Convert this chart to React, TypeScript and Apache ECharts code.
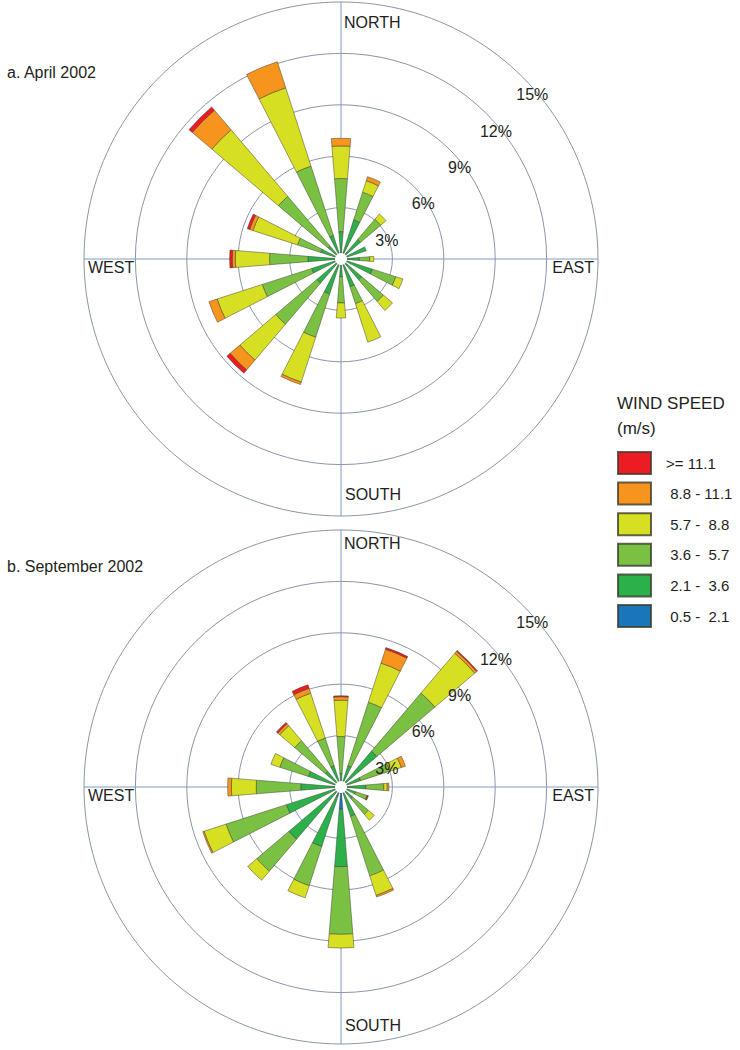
import React, { useEffect, useRef } from "react";
import * as echarts from "echarts";

// ---------- data ----------
const DIRS = ["N", "NNE", "NE", "ENE", "E", "ESE", "SE", "SSE", "S", "SSW", "SW", "WSW", "W", "WNW", "NW", "NNW"];

const SPEED_CLASSES = [" 0.5 -  2.1", " 2.1 -  3.6", " 3.6 -  5.7", " 5.7 -  8.8", " 8.8 - 11.1", ">= 11.1"];
const CLASS_COLORS = ["#1b75bb", "#2bb04a", "#7ac143", "#d7df23", "#f7941d", "#ed1c24"];

// April 2002 (% frequency per speed class)
const aprB1 = [0.4, 0.4, 0.3, 0.3, 0.3, 0.3, 0.3, 0.3, 0.3, 0.3, 0.3, 0.3, 0.3, 0.3, 0.3, 0.3];
const aprB2 = [1.2, 2.0, 1.2, 1.25, 0.77, 1.63, 1.3, 1.4, 0.73, 1.85, 1.55, 1.5, 1.63, 0.95, 0.7, 1.15];
const aprB3 = [3.1, 1.7, 1.55, 0, 0.61, 1.43, 1.65, 1.04, 1.54, 2.65, 3.15, 3.03, 2.24, 1.42, 3.8, 4.25];
const aprB4 = [1.9, 0.7, 0.4, 0, 0.24, 0.44, 0.7, 2.36, 0.88, 2.75, 2.75, 2.77, 2.0, 2.73, 5.1, 4.8];
const aprB5 = [0.45, 0.25, 0, 0, 0, 0, 0, 0, 0, 0.15, 0.75, 0.5, 0.18, 0.2, 1.5, 1.6];
const aprB6 = [0, 0, 0, 0, 0, 0, 0, 0, 0, 0, 0.25, 0, 0.15, 0.15, 0.25, 0];

// September 2002
const sepB1 = [0.3, 0.3, 0.3, 0.3, 0.3, 0.3, 0.3, 0.3, 1.3, 0.6, 0.3, 0.3, 0.3, 0.3, 0.3, 0.3];
const sepB2 = [0.5, 1.0, 2.45, 0.9, 1.15, 0.6, 0.6, 1.5, 3.35, 3.05, 3.7, 3.05, 2.05, 1.7, 0.9, 1.0];
const sepB3 = [2.15, 3.9, 4.45, 1.8, 1.05, 0.7, 1.2, 3.65, 3.95, 2.4, 2.45, 3.7, 2.6, 1.75, 2.35, 1.7];
const sepB4 = [2.12, 2.4, 3.05, 0.7, 0.2, 0, 0.45, 1.2, 0.8, 0.75, 0.7, 1.35, 1.45, 0.55, 1.15, 2.75];
const sepB5 = [0.2, 0.85, 0.15, 0.25, 0.1, 0.03, 0, 0.1, 0, 0, 0, 0.08, 0.22, 0, 0.15, 0.3];
const sepB6 = [0.06, 0.1, 0.06, 0, 0, 0.05, 0, 0, 0, 0, 0, 0, 0, 0, 0.1, 0.22];

const RING_MAX = 15;
const RING_STEP = 3;

const PANELS = [
  { title: "a. April 2002", classes: [aprB1, aprB2, aprB3, aprB4, aprB5, aprB6] },
  { title: "b. September 2002", classes: [sepB1, sepB2, sepB3, sepB4, sepB5, sepB6] },
];

// ---------- layout ----------
const FONT = '"Liberation Sans", Arial, Helvetica, sans-serif';
const TEXT = "#231f20";
const R = 257;
const CENTERS = [
  [341, 259],
  [341, 787],
];
const TITLE_POS = [
  [7, 72],
  [7, 566],
];
const NORTH_DY = [20, 13];
const SOUTH_DY = [-22, -19];

export default function App() {
  const ref = useRef<HTMLDivElement>(null);
  useEffect(() => {
    if (!ref.current) return;
    const chart = echarts.init(ref.current, null, { renderer: "svg" });

    const polar: any[] = [];
    const angleAxis: any[] = [];
    const radiusAxis: any[] = [];
    const series: any[] = [];
    const graphic: any[] = [];

    PANELS.forEach((panel, p) => {
      const [cx, cy] = CENTERS[p];
      const base = p * 3;
      // polar 0: rings + cardinal lines
      polar.push({ center: [cx, cy], radius: R });
      angleAxis.push({
        polarIndex: base,
        type: "value",
        min: 0,
        max: 360,
        interval: 90,
        startAngle: 90,
        clockwise: true,
        axisLine: { show: false },
        axisTick: { show: false },
        axisLabel: { show: false },
        splitLine: { show: true, lineStyle: { color: "#7f9cc6", width: 1 } },
      });
      radiusAxis.push({
        polarIndex: base,
        type: "value",
        min: 0,
        max: RING_MAX,
        interval: RING_STEP,
        axisLine: { show: false },
        axisTick: { show: false },
        axisLabel: { show: false },
        splitLine: { show: true, lineStyle: { color: "#8c95a8", width: 1 } },
      });
      // polar 1: percentage labels along NE
      polar.push({ center: [cx, cy], radius: R });
      angleAxis.push({
        polarIndex: base + 1,
        type: "value",
        min: 0,
        max: 360,
        startAngle: 45,
        axisLine: { show: false },
        axisTick: { show: false },
        axisLabel: { show: false },
        splitLine: { show: false },
      });
      radiusAxis.push({
        polarIndex: base + 1,
        type: "value",
        min: 0,
        max: RING_MAX,
        interval: RING_STEP,
        z: 20,
        axisLine: { show: false },
        axisTick: { show: false },
        splitLine: { show: false },
        axisLabel: {
          show: true,
          margin: -5,
          align: "center",
          verticalAlign: "top",
          padding: [6, 0, 0, 12],
          fontSize: 16,
          fontFamily: FONT,
          color: TEXT,
          formatter: (v: number) => (v === 0 ? "" : v + "%"),
        },
      });
      // polar 2: bars
      polar.push({ center: [cx, cy], radius: R });
      angleAxis.push({
        polarIndex: base + 2,
        type: "category",
        data: DIRS,
        startAngle: 90 + 360 / DIRS.length / 2,
        clockwise: true,
        axisLine: { show: false },
        axisTick: { show: false },
        axisLabel: { show: false },
        splitLine: { show: false },
      });
      radiusAxis.push({
        polarIndex: base + 2,
        type: "value",
        min: 0,
        max: RING_MAX,
        axisLine: { show: false },
        axisTick: { show: false },
        axisLabel: { show: false },
        splitLine: { show: false },
      });
      panel.classes.forEach((vals, k) => {
        series.push({
          type: "bar",
          name: SPEED_CLASSES[k],
          coordinateSystem: "polar",
          polarIndex: base + 2,
          stack: "panel" + p,
          barWidth: "41%",
          color: CLASS_COLORS[k],
          itemStyle: { color: CLASS_COLORS[k], borderColor: "rgba(60,60,45,0.8)", borderWidth: 0.6 },
          emphasis: { disabled: true },
          data: vals.map((v) => (v > 0 ? v : "-")),
        });
      });
      // center hole
      graphic.push({ type: "circle", z: 100, shape: { cx, cy, r: 6 }, style: { fill: "#ffffff" } });
      // direction labels
      const dirStyle = { font: `16px ${FONT}`, fill: TEXT, verticalAlign: "middle" };
      graphic.push({ type: "text", z: 100, x: cx + 3, y: cy - R + NORTH_DY[p], style: { ...dirStyle, text: "NORTH", align: "left" } });
      graphic.push({ type: "text", z: 100, x: cx + 4, y: cy + R + SOUTH_DY[p], style: { ...dirStyle, text: "SOUTH", align: "left" } });
      graphic.push({ type: "text", z: 100, x: cx - R + 4, y: cy + 8, style: { ...dirStyle, text: "WEST", align: "left" } });
      graphic.push({ type: "text", z: 100, x: cx + R - 4, y: cy + 8, style: { ...dirStyle, text: "EAST", align: "right" } });
      graphic.push({
        type: "text",
        z: 100,
        x: TITLE_POS[p][0],
        y: TITLE_POS[p][1],
        style: { font: `16px ${FONT}`, fill: TEXT, text: panel.title, align: "left", verticalAlign: "middle" },
      });
    });

    graphic.push({
      type: "text",
      z: 100,
      x: 617,
      y: 403,
      style: { font: `17px ${FONT}`, fill: TEXT, text: "WIND SPEED", align: "left", verticalAlign: "middle" },
    });
    graphic.push({
      type: "text",
      z: 100,
      x: 617,
      y: 428,
      style: { font: `17px ${FONT}`, fill: TEXT, text: "(m/s)", align: "left", verticalAlign: "middle" },
    });

    chart.setOption({
      animation: false,
      backgroundColor: "#ffffff",
      polar,
      angleAxis,
      radiusAxis,
      series,
      graphic,
      legend: {
        data: SPEED_CLASSES.slice().reverse(),
        orient: "vertical",
        left: 617,
        top: 451,
        padding: 0,
        icon: "rect",
        itemWidth: 33,
        itemHeight: 22,
        itemGap: 6.6,
        selectedMode: false,
        textStyle: { fontSize: 15, fontFamily: FONT, color: TEXT, padding: [0, 0, 0, 10] },
      },
    });
    return () => chart.dispose();
  }, []);

  return (
    <div
      ref={ref}
      style={{ position: "absolute", left: 0, top: 0, width: 740, height: 1050, background: "#fff" }}
    />
  );
}
